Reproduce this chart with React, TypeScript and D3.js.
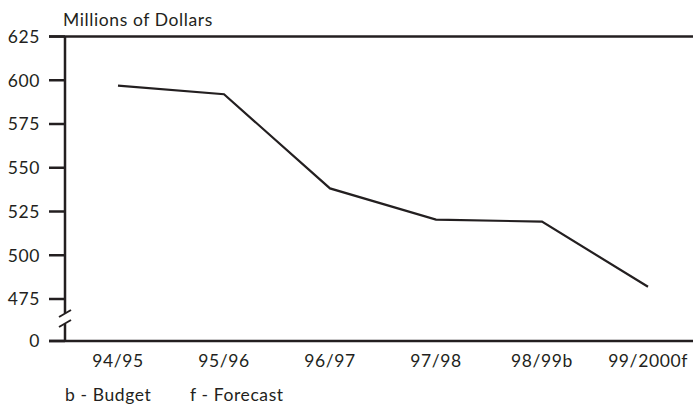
import * as d3 from "d3";

const categories = ["94/95", "95/96", "96/97", "97/98", "98/99b", "99/2000f"];
const spending = [596.9, 592.0, 538.2, 520.4, 519.2, 482.0];
const yTicks = [0, 475, 500, 525, 550, 575, 600, 625];
const yTitle = "Millions of Dollars";
const notes = ["b - Budget", "f - Forecast"];

const W = 693;
const H = 411;
const ink = "#231f20";
const font = "Lato, 'Open Sans', sans-serif";
const fs = 17.5;
const ls = 0.6;

export default function App() {
  const axisX = 65;
  // broken axis: 0 sits one step below 475
  const y = d3.scaleLinear().domain([0, 475, 625]).range([341, 299, 36.5]);
  const x = d3.scalePoint<string>().domain(categories).range([118, 648]);

  const line = d3
    .line<number>()
    .x((_, i) => x(categories[i]) as number)
    .y((d) => y(d));

  const breakTop = 313;
  const breakBottom = 324;

  return (
    <svg
      width={W}
      height={H}
      style={{ position: "absolute", left: 0, top: 0, background: "#fff" }}
      fontFamily={font}
      fontSize={fs}
      letterSpacing={ls}
      fill={ink}
    >
      <text x={63} y={26}>
        {yTitle}
      </text>

      {/* top frame line and bottom axis */}
      <line x1={49} x2={W} y1={y(625)} y2={y(625)} stroke={ink} strokeWidth={2.5} />
      <line x1={49} x2={W} y1={y(0)} y2={y(0)} stroke={ink} strokeWidth={2.5} />

      {/* y axis with break */}
      <line x1={axisX} x2={axisX} y1={y(625)} y2={breakTop} stroke={ink} strokeWidth={2.5} />
      <line x1={axisX} x2={axisX} y1={breakBottom} y2={y(0)} stroke={ink} strokeWidth={2.5} />
      <line x1={59} x2={71} y1={breakTop + 4} y2={breakTop - 3} stroke={ink} strokeWidth={2} />
      <line x1={59} x2={71} y1={breakBottom + 3} y2={breakBottom - 4} stroke={ink} strokeWidth={2} />

      {yTicks.map((t) => (
        <g key={t}>
          <line x1={49} x2={axisX} y1={y(t)} y2={y(t)} stroke={ink} strokeWidth={2.5} />
          <text x={40} y={y(t)} dy="0.36em" textAnchor="end">
            {t}
          </text>
        </g>
      ))}

      {categories.map((c) => (
        <text key={c} x={x(c)} y={367} textAnchor="middle">
          {c}
        </text>
      ))}

      <path d={line(spending) ?? ""} fill="none" stroke={ink} strokeWidth={2.2} />

      <text x={65} y={401}>
        {notes[0]}
      </text>
      <text x={190} y={401}>
        {notes[1]}
      </text>
    </svg>
  );
}
